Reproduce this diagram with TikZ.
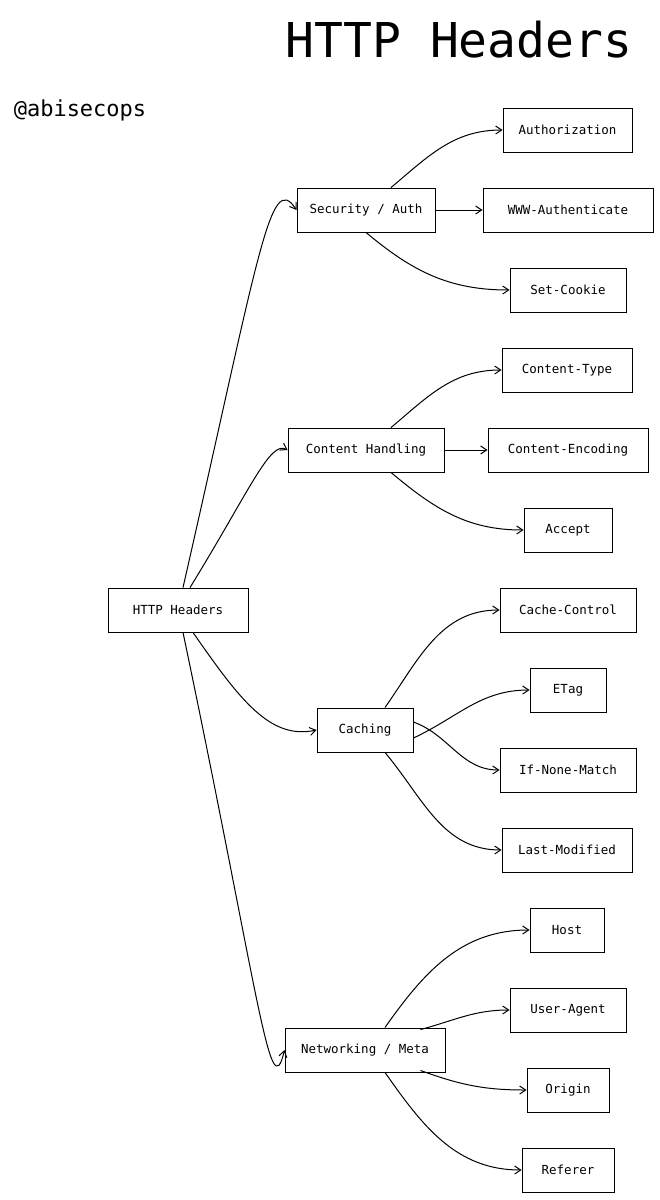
\documentclass[tikz,border=0pt]{standalone}
\usepackage{fontspec}
\setmainfont{DejaVu Sans Mono}
\usetikzlibrary{arrows.meta}
\begin{document}
\begin{tikzpicture}[x=1pt,y=-1pt,
  box/.style={draw,line width=0.9pt,minimum height=44pt,inner sep=0pt,font=\fontsize{12.5}{14}\selectfont},
  edge/.style={draw,line width=1pt,-{Straight Barb[length=6pt,width=8pt]}}]
\useasboundingbox (0,0) rectangle (660,1200);
\node[font=\fontsize{48}{54}\selectfont] (title) at (459,40) {HTTP Headers};
\node[font=\fontsize{22}{26}\selectfont] (handle) at (80,110) {@abisecops};
\node[box,minimum width=140pt] (root) at (178,610) {HTTP Headers};
\node[box,minimum width=138pt] (sec) at (366,210) {Security / Auth};
\node[box,minimum width=129pt] (auth) at (567.5,130) {Authorization};
\node[box,minimum width=170pt] (www) at (568,210) {WWW-Authenticate};
\node[box,minimum width=116pt] (cookie) at (568,290) {Set-Cookie};
\node[box,minimum width=156pt] (cont) at (366,450) {Content Handling};
\node[box,minimum width=130pt] (ctype) at (567,370) {Content-Type};
\node[box,minimum width=160pt] (cenc) at (568,450) {Content-Encoding};
\node[box,minimum width=88pt] (acc) at (568,530) {Accept};
\node[box,minimum width=96pt] (cach) at (365,730) {Caching};
\node[box,minimum width=136pt] (cc) at (568,610) {Cache-Control};
\node[box,minimum width=76pt] (etag) at (568,690) {ETag};
\node[box,minimum width=136pt] (inm) at (568,770) {If-None-Match};
\node[box,minimum width=130pt] (lm) at (567,850) {Last-Modified};
\node[box,minimum width=160pt] (net) at (365,1050) {Networking / Meta};
\node[box,minimum width=74pt] (host) at (567,930) {Host};
\node[box,minimum width=116pt] (ua) at (568,1010) {User-Agent};
\node[box,minimum width=82pt] (orig) at (568,1090) {Origin};
\node[box,minimum width=92pt] (ref) at (568,1170) {Referer};
% root edges
\draw[edge] ([xshift=5pt]root.north) .. controls (260,250) and (270,170) .. (sec.west);
\draw[edge] ([xshift=12pt]root.north) .. controls (250,490) and (270,440) .. (cont.west);
\draw[edge] ([xshift=15pt]root.south) .. controls (240,700) and (270,740) .. (cach.west);
\draw[edge] ([xshift=5pt]root.south) .. controls (260,1000) and (270,1110) .. (net.west);
% security
\draw[edge] ([xshift=25pt]sec.north) to[out=40,in=180] (auth.west);
\draw[edge] (sec.east) -- (www.west);
\draw[edge] ([xshift=0pt]sec.south) to[out=-40,in=180] (cookie.west);
% content
\draw[edge] ([xshift=25pt]cont.north) to[out=40,in=180] (ctype.west);
\draw[edge] (cont.east) -- (cenc.west);
\draw[edge] ([xshift=25pt]cont.south) to[out=-40,in=180] (acc.west);
% caching
\draw[edge] ([xshift=20pt]cach.north) to[out=55,in=180] (cc.west);
\draw[edge] ([yshift=-8pt]cach.east) to[out=25,in=180] (etag.west);
\draw[edge] ([yshift=8pt]cach.east) to[out=-20,in=180] (inm.west);
\draw[edge] ([xshift=20pt]cach.south) to[out=-50,in=180] (lm.west);
% networking
\draw[edge] ([xshift=20pt]net.north) to[out=55,in=180] (host.west);
\draw[edge] ([yshift=-2pt,xshift=-25pt]net.north east) to[out=15,in=180] (ua.west);
\draw[edge] ([xshift=-25pt,yshift=2pt]net.south east) to[out=-20,in=180] (orig.west);
\draw[edge] ([xshift=20pt]net.south) to[out=-55,in=180] (ref.west);
\end{tikzpicture}
\end{document}
